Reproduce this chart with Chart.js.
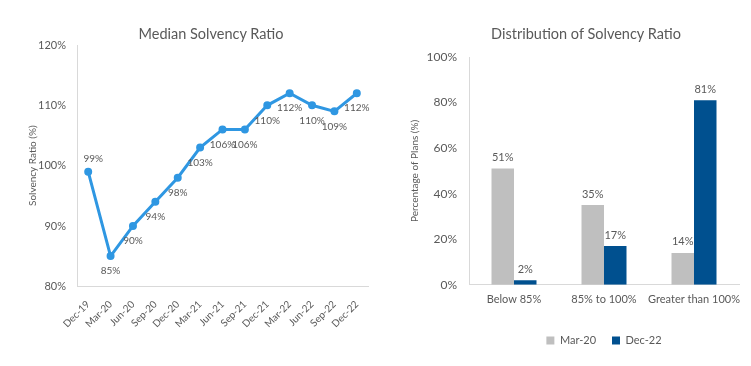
<!DOCTYPE html>
<html>
<head>
<meta charset="utf-8">
<script src="https://cdn.jsdelivr.net/npm/chart.js@4"></script>
<style>
  html, body { margin: 0; padding: 0; background: #fff; overflow: hidden; }
  body { width: 751px; height: 366px; position: relative; font-family: Lato, 'Open Sans', sans-serif; }
  #box1 { position: absolute; left: 0; top: 0; width: 375px; height: 366px; }
  #box2 { position: absolute; left: 375px; top: 0; width: 376px; height: 366px; }
  .titulo { position: absolute; top: 24px; width: 300px; margin-left: -150px; text-align: center;
            font-size: 14.5px; color: #595959; line-height: 20px; white-space: nowrap; }
</style>
</head>
<body>
<div id="box1"><canvas id="ratio" width="375" height="366"></canvas></div>
<div id="box2"><canvas id="dist" width="376" height="366"></canvas></div>
<div class="titulo" style="left:211px">Median Solvency Ratio</div>
<div class="titulo" style="left:586px">Distribution of Solvency Ratio</div>
<script>
// datos del grafico de la izquierda
const trimestres = ["Dec-19", "Mar-20", "Jun-20", "Sep-20", "Dec-20", "Mar-21", "Jun-21",
  "Sep-21", "Dec-21", "Mar-22", "Jun-22", "Sep-22", "Dec-22"];
const medianas = [99, 85, 90, 94, 98, 103, 106, 106, 110, 112, 110, 109, 112];

// datos del grafico de la derecha
const rangos = ["Below 85%", "85% to 100%", "Greater than 100%"];
const marzo20 = [51, 35, 14];
const diciembre22 = [2, 17, 81];

const gris = "#595959";
const fuente = "Lato, 'Open Sans', sans-serif";
Chart.defaults.font.family = fuente;
Chart.defaults.color = gris;

// etiquetas de valores (no hay plugin datalabels)
const etiquetas = {
  id: "etiquetas",
  afterDatasetsDraw(chart, args, opts) {
    const ctx = chart.ctx;
    ctx.save();
    ctx.font = opts.tam + "px " + fuente;
    ctx.fillStyle = gris;
    ctx.textAlign = "center";
    ctx.textBaseline = "middle";
    chart.data.datasets.forEach((ds, i) => {
      const meta = chart.getDatasetMeta(i);
      meta.data.forEach((el, j) => {
        let x = el.x, y = el.y;
        if (opts.tipo === "linea") {
          if (j === 0) { x += 5; y -= 13; } else { y += 15; }
        } else {
          y -= 11;
        }
        ctx.fillText(ds.data[j] + "%", x, y);
      });
    });
    ctx.restore();
  }
};

new Chart(document.getElementById("ratio"), {
  type: "line",
  data: {
    labels: trimestres,
    datasets: [{
      label: "Median Solvency Ratio",
      data: medianas,
      borderColor: "#2F97E2",
      backgroundColor: "#2F97E2",
      borderWidth: 3,
      pointRadius: 2.5,
      tension: 0,
    }],
  },
  options: {
    responsive: false,
    animation: false,
    layout: { padding: { left: 27, right: 3, top: 45, bottom: 32 } },
    plugins: {
      legend: { display: false },
      tooltip: { enabled: false },
      etiquetas: { tipo: "linea", tam: 10 },
    },
    scales: {
      x: {
        offset: true,
        grid: { display: false },
        border: { display: true, color: "#D9D9D9", width: 1 },
        ticks: { minRotation: 45, maxRotation: 45, autoSkip: false, font: { size: 10 }, padding: 4 },
      },
      y: {
        min: 80,
        max: 120,
        grid: { display: false, drawTicks: false },
        border: { display: true, color: "#D9D9D9", width: 1 },
        ticks: { stepSize: 10, padding: 11, font: { size: 11 }, callback: (v) => v + "%" },
        title: { display: true, text: "Solvency Ratio (%)", font: { size: 10 }, padding: 0 },
        afterFit: (s) => { s.width = 50; },
      },
    },
  },
  plugins: [etiquetas],
});

new Chart(document.getElementById("dist"), {
  type: "bar",
  data: {
    labels: rangos,
    datasets: [
      { label: "Mar-20", data: marzo20, backgroundColor: "#BFBFBF" },
      { label: "Dec-22", data: diciembre22, backgroundColor: "#00508F" },
    ],
  },
  options: {
    responsive: false,
    animation: false,
    categoryPercentage: 0.5,
    barPercentage: 1.0,
    layout: { padding: { left: 34, right: 12, top: 57, bottom: 10 } },
    plugins: {
      legend: {
        position: "bottom",
        fullSize: false,
        labels: { boxWidth: 8, boxHeight: 8, padding: 16, font: { size: 11 }, color: gris },
      },
      tooltip: { enabled: false },
      etiquetas: { tipo: "barra", tam: 11 },
    },
    scales: {
      x: {
        grid: { display: false, drawTicks: false },
        border: { display: true, color: "#D9D9D9", width: 1 },
        ticks: { font: { size: 11 }, padding: 8, autoSkip: false, maxRotation: 0 },
        afterFit: (s) => { s.height += 5; },
      },
      y: {
        min: 0,
        max: 100,
        grid: { display: false, drawTicks: false },
        border: { display: true, color: "#D9D9D9", width: 1 },
        ticks: { stepSize: 20, padding: 12, font: { size: 12 }, callback: (v) => v + "%" },
        title: { display: true, text: "Percentage of Plans (%)", font: { size: 10 }, padding: 0 },
        afterFit: (s) => { s.width = 60; },
      },
    },
  },
  plugins: [etiquetas],
});
</script>
</body>
</html>
